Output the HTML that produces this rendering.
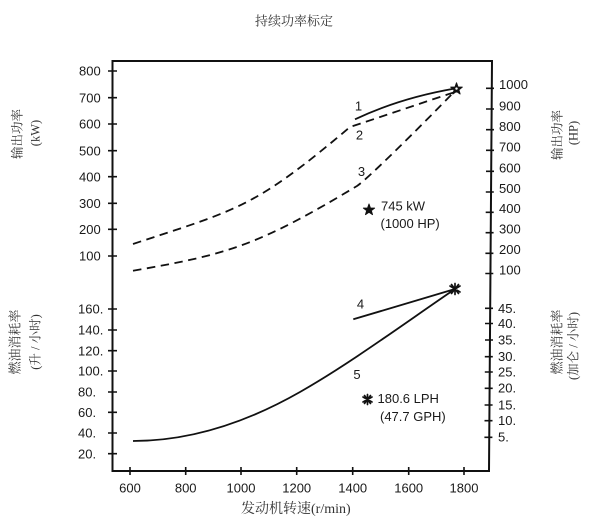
<!DOCTYPE html>
<html><head><meta charset="utf-8"><style>
html,body{margin:0;padding:0;background:#fff;}
svg{display:block;}
.n{font-family:"Liberation Sans",Arial,sans-serif;font-size:13px;fill:#1a1a1a;}
.c{font-family:"Liberation Serif","Noto Serif CJK SC",serif;fill:#333;}
</style></head><body>
<svg width="600" height="532" viewBox="0 0 600 532" xmlns="http://www.w3.org/2000/svg">
<rect width="600" height="532" fill="#fff"/>
<text class="c" x="294" y="25.5" font-size="13" text-anchor="middle">持续功率标定</text>
<g stroke="#111" stroke-width="2" fill="none" stroke-linecap="square">
<path d="M112.5 61 L492 61 L489 471 L112.5 471 Z"/>
</g>
<g stroke="#111" stroke-width="1.6">
<path d="M108 71H117M108 97.7H117M108 124H117M108 150.7H117M108 176.7H117M108 203.3H117M108 229.3H117M108 256H117"/>
<path d="M108 309H117M108 330H117M108 350.7H117M108 371H117M108 392H117M108 412.3H117M108 433H117M108 453.7H117"/>
<path d="M130 467V475M185.7 467V475M241 467V475M296.7 467V475M352.7 467V475M408.7 467V475M464 467V475"/>
<path d="M486 88.3H494M486 109H494M486 129.7H494M486 150.3H494M486 171.3H494M485.8 192H493.8M485.7 212.3H493.7M485.6 232.7H493.6M485.4 253.3H493.4M485.3 273.5H493.3"/>
<path d="M485 308.3H493M485 323.5H493M485 340H493M484.8 356.7H492.8M484.8 372H492.8M484.7 388.3H492.7M484.6 405H492.6M484.5 420.7H492.5M484.4 437.3H492.4"/>
</g>
<g class="n">
<text x="79" y="75.7">800</text><text x="79" y="102.4">700</text><text x="79" y="128.7">600</text><text x="79" y="155.4">500</text><text x="79" y="181.4">400</text><text x="79" y="208">300</text><text x="79" y="234">200</text><text x="79" y="260.7">100</text>
<text x="78" y="313.7">160.</text><text x="78" y="334.7">140.</text><text x="78" y="355.4">120.</text><text x="78" y="375.7">100.</text><text x="78" y="396.7">80.</text><text x="78" y="417">60.</text><text x="78" y="437.7">40.</text><text x="78" y="458.4">20.</text>
</g>
<g class="n" text-anchor="middle">
<text x="130" y="492.5">600</text><text x="185.7" y="492.5">800</text><text x="241" y="492.5">1000</text><text x="296.7" y="492.5">1200</text><text x="352.7" y="492.5">1400</text><text x="408.7" y="492.5">1600</text><text x="464" y="492.5">1800</text>
</g>
<g class="n">
<text x="499" y="89">1000</text><text x="499" y="110.5">900</text><text x="499" y="131">800</text><text x="499" y="151.5">700</text><text x="499" y="172.5">600</text><text x="499" y="193">500</text><text x="499" y="213">400</text><text x="499" y="233.5">300</text><text x="499" y="254">200</text><text x="499" y="274.5">100</text>
<text x="498" y="313">45.</text><text x="498" y="328">40.</text><text x="498" y="344.5">35.</text><text x="498" y="361">30.</text><text x="498" y="376.5">25.</text><text x="498" y="392.5">20.</text><text x="498" y="409.5">15.</text><text x="498" y="425">10.</text><text x="498" y="441.5">5.</text>
</g>
<g class="c" text-anchor="middle" font-size="12.5">
<text transform="translate(21.5,134) rotate(-90)">输出功率</text>
<text transform="translate(39.5,133) rotate(-90)">(kW)</text>
<text transform="translate(19.5,342) rotate(-90)" font-size="13">燃油消耗率</text>
<text transform="translate(39.5,342) rotate(-90)">(升 / 小时)</text>
<text transform="translate(561.5,135) rotate(-90)">输出功率</text>
<text transform="translate(577.5,133) rotate(-90)">(HP)</text>
<text transform="translate(561.5,342) rotate(-90)" font-size="13">燃油消耗率</text>
<text transform="translate(577.5,346) rotate(-90)">(加仑 / 小时)</text>
</g>
<text class="c" x="241" y="513" font-size="14">发动机转速(r/min)</text>
<g fill="none" stroke="#111" stroke-width="1.8" stroke-linejoin="round" stroke-linecap="butt">
<path d="M355 119.3 Q400 98 455 88.5"/>
<path stroke-dasharray="8.5 5.5" d="M133 244 C238 209.3 254 208.3 350 127 C385 115.5 420 103.5 455 92"/>
<path stroke-dasharray="8.5 5.5" d="M133 270.7 C230 254.2 260 244.2 357 186 C367 179.5 420 127 455 91"/>
<path d="M353.3 319.3 L455 289"/>
<path d="M133 441 C193 441 250 420.5 300 392 C350 363.5 405 323 455 289"/>
</g>
<g fill="#111" stroke="#111" stroke-width="1" stroke-linejoin="round">
<polygon points="456.5,82.8 458,87 462.3,87.1 458.9,89.8 460.1,94 456.5,91.5 452.9,94 454.1,89.8 450.7,87.1 455,87"/>
<polygon points="369,204 370.4,208 374.6,208.1 371.3,210.6 372.5,214.6 369,212.2 365.5,214.6 366.7,210.6 363.4,208.1 367.6,208"/>
</g>
<circle cx="456.5" cy="88.6" r="1.2" fill="#fff"/>
<g stroke="#111" stroke-width="1.7" stroke-linecap="round">
<path d="M455 283.5V294.5M450 286L460 292M450 292L460 286M451.5 284.5L458.5 293.5M458.5 284.5L451.5 293.5"/>
<path d="M367.5 394.5V404.5M363 397L372 402M363 402L372 397M364.5 395.5L370.5 403.5M370.5 395.5L364.5 403.5"/>
</g>
<g class="n">
<text x="381" y="210.5">745 kW</text>
<text x="380.5" y="228">(1000 HP)</text>
<text x="377.5" y="403">180.6 LPH</text>
<text x="380" y="421">(47.7 GPH)</text>
</g>
<g class="n" text-anchor="middle">
<text x="358.5" y="110.5">1</text>
<text x="359.5" y="139.5">2</text>
<text x="361.5" y="176">3</text>
<text x="360.5" y="308.5">4</text>
<text x="357" y="379">5</text>
</g>
</svg>
</body></html>
